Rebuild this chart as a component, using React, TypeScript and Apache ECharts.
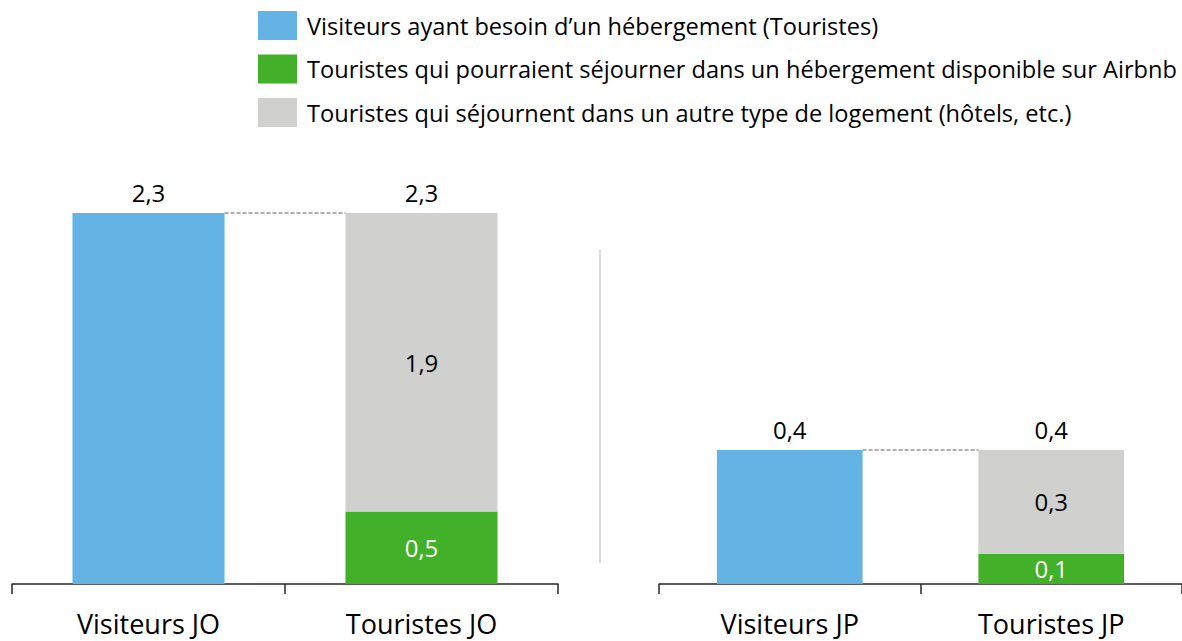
import React, { useEffect, useRef } from "react";
import * as echarts from "echarts";

const seriesNames = [
  "Visiteurs ayant besoin d\u2019un hébergement (Touristes)",
  "Touristes qui pourraient séjourner dans un hébergement disponible sur Airbnb",
  "Touristes qui séjournent dans un autre type de logement (hôtels, etc.)",
];
const categoriesJO = ["Visiteurs JO", "Touristes JO"];
const categoriesJP = ["Visiteurs JP", "Touristes JP"];

const visiteursJO = 2.3;
const airbnbJO = 0.45;
const autreJO = 1.85;
const visiteursJP = 0.4;
const airbnbJP = 0.09;
const autreJP = 0.31;

const colors = ["#63B4E4", "#43B02A", "#D0D0CE"];
const FONT = "Open Sans";

const fmt = (v: number) => (Math.round(v * 10) / 10).toFixed(1).replace(".", ",");

function panel(idx: number, vis: number, air: number, aut: number) {
  const total = air + aut;
  const bw = "55.7%";
  const base = {
    type: "bar",
    xAxisIndex: idx,
    yAxisIndex: idx,
    barWidth: bw,
    barGap: "-100%",
  };
  const lbl = { fontSize: 24, fontFamily: FONT, color: "#000" };
  return [
    {
      ...base,
      name: seriesNames[0],
      data: [vis, "-"],
      itemStyle: { color: colors[0] },
      label: { ...lbl, show: true, position: "top", distance: 9, formatter: (p: any) => fmt(p.value) },
    },
    {
      ...base,
      name: seriesNames[1],
      stack: "s" + idx,
      data: ["-", air],
      itemStyle: { color: colors[1] },
      label: { ...lbl, color: "#fff", show: true, position: "inside", formatter: (p: any) => fmt(p.value) },
    },
    {
      ...base,
      name: seriesNames[2],
      stack: "s" + idx,
      data: ["-", aut],
      itemStyle: { color: colors[2] },
      label: { ...lbl, show: true, position: "inside", formatter: (p: any) => fmt(p.value) },
    },
    {
      ...base,
      name: "total" + idx,
      stack: "s" + idx,
      data: ["-", 0],
      itemStyle: { color: "rgba(0,0,0,0)" },
      label: { ...lbl, show: true, position: "top", distance: 9, formatter: () => fmt(total) },
    },
    {
      type: "custom",
      xAxisIndex: idx,
      yAxisIndex: idx,
      silent: true,
      data: [[0, vis, 1, total]],
      encode: { x: [0, 2], y: [1, 3] },
      renderItem: (params: any, api: any) => {
        const a = api.coord([api.value(0), api.value(1)]);
        const b = api.coord([api.value(2), api.value(3)]);
        const band = api.size([1, 0])[0];
        const w = band * 0.557;
        return {
          type: "line",
          shape: { x1: a[0] + w / 2, y1: a[1], x2: b[0] - w / 2, y2: b[1] },
          style: { stroke: "#606060", lineWidth: 1.2, lineDash: [4, 2] },
        };
      },
    },
  ];
}

export default function App() {
  const ref = useRef<HTMLDivElement>(null);
  useEffect(() => {
    const chart = echarts.init(ref.current!, null, { renderer: "svg" });
    const xAxisCommon = {
      type: "category",
      axisLine: { lineStyle: { color: "#262626", width: 1.5 } },
      axisTick: { show: true, length: 10, lineStyle: { color: "#262626", width: 1.5 } },
      axisLabel: { fontSize: 27, fontFamily: FONT, color: "#000", margin: 26 },
    };
    chart.setOption({
      animation: false,
      backgroundColor: "#fff",
      legend: {
        data: seriesNames,
        orient: "vertical",
        left: 258,
        top: 11,
        padding: 0,
        itemWidth: 39,
        itemHeight: 29,
        itemGap: 14.5,
        icon: "rect",
        selectedMode: false,
        textStyle: { fontSize: 23.6, fontFamily: FONT, color: "#000", padding: [0, 0, 0, 5] },
      },
      grid: [
        { left: 12, width: 546, top: 213, height: 371 },
        { left: 659, width: 530, top: 450, height: 134 },
      ],
      xAxis: [
        { ...xAxisCommon, gridIndex: 0, data: categoriesJO },
        { ...xAxisCommon, gridIndex: 1, data: categoriesJP },
      ],
      yAxis: [
        { type: "value", gridIndex: 0, min: 0, max: visiteursJO, show: false, splitLine: { show: false } },
        { type: "value", gridIndex: 1, min: 0, max: visiteursJP, show: false, splitLine: { show: false } },
      ],
      series: [
        ...panel(0, visiteursJO, airbnbJO, autreJO),
        ...panel(1, visiteursJP, airbnbJP, autreJP),
      ],
      graphic: [
        {
          type: "line",
          shape: { x1: 600, y1: 250, x2: 600, y2: 563 },
          style: { stroke: "#d9d9d9", lineWidth: 2 },
        },
      ],
    });
    return () => chart.dispose();
  }, []);
  return (
    <div
      ref={ref}
      style={{ position: "fixed", left: 0, top: 0, width: 1182, height: 641 }}
    />
  );
}
